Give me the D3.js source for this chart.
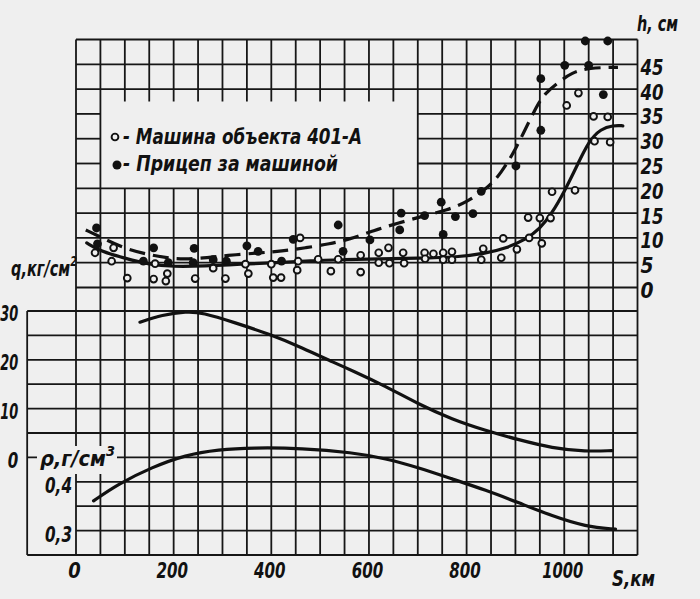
<!DOCTYPE html>
<html lang="ru">
<head>
<meta charset="UTF-8">
<title>h, q, ρ по пути S</title>
<style>
  body { margin: 0; background: #efefef; }
  svg { display: block; }
  text { font-family: "Liberation Sans Narrow", "DejaVu Sans Condensed", "DejaVu Sans", sans-serif; font-style: italic; font-weight: bold; fill: #111; }
  .grid line { stroke: #161616; stroke-width: 1.8; }
  .tick text { font-size: 22px; }
  .curve { fill: none; stroke: #111; stroke-width: 3.2; stroke-linecap: round; }
</style>
</head>
<body>
<svg width="700" height="599"></svg>
<script src="https://d3js.org/d3.v7.min.js"></script>
<script>
// --- data ---
// open circles: "Машина объекта 401-А" (S, km ; h, cm)
const carS = [39, 77, 73, 105, 162, 159, 184, 187, 244, 281, 306, 347, 353, 400, 404, 420, 455, 453, 459, 496, 522, 537,
  583, 583, 620, 620, 640, 642, 670, 672, 714, 715, 732, 752, 752, 770, 770, 834, 830,
  875, 871, 903, 928, 926, 950, 972, 954, 975, 1022, 1029, 1005, 1060, 1089, 1062, 1094];
const carH = [7.0, 8.0, 5.3, 1.9, 4.8, 1.7, 1.3, 2.8, 1.8, 3.9, 1.8, 4.7, 2.8, 4.7, 2.0, 2.0, 5.3, 3.5, 10.0, 5.7, 3.3, 5.7,
  6.5, 3.1, 7.0, 5.0, 8.0, 4.9, 7.0, 4.9, 7.0, 5.8, 6.8, 7.0, 5.6, 7.2, 5.6, 7.8, 5.6,
  9.9, 6.0, 7.7, 10.0, 14.1, 14.0, 14.0, 8.9, 19.3, 19.6, 39.2, 36.7, 34.5, 34.4, 29.5, 29.3];

// filled dots: "Прицеп за машиной"
const trailerS = [42, 44, 138, 159, 189, 242, 240, 281, 308, 350, 373, 421, 445, 537, 547,
  602, 666, 663, 714, 748, 752, 777, 813, 830, 901, 952, 952, 1001, 1050, 1080, 1043, 1089];
const trailerH = [12.0, 8.8, 5.3, 8.0, 5.0, 7.9, 5.0, 5.6, 5.3, 8.4, 7.3, 5.3, 9.7, 12.6, 7.3,
  9.6, 15.0, 11.6, 14.5, 17.2, 10.7, 14.3, 14.9, 19.4, 24.5, 31.7, 42.1, 44.8, 44.8, 38.9, 49.7, 49.7];

// averaged curves
const carFitS = [22, 50, 100, 150, 200, 260, 340, 410, 480, 550, 620, 700, 780, 840, 880, 920, 950, 975, 1000, 1025, 1050, 1075, 1100, 1120];
const carFitH = [9.0, 7.3, 5.9, 4.6, 4.2, 4.3, 4.7, 5.0, 5.4, 5.6, 5.8, 5.9, 6.1, 6.9, 7.9, 9.6, 11.8, 15.0, 19.3, 24.3, 29.5, 32.0, 32.7, 32.6];
const trailerFitS = [20, 50, 100, 150, 200, 250, 310, 380, 420, 470, 520, 560, 610, 660, 715, 760, 800, 845, 870, 900, 940, 960, 990, 1015, 1050, 1110];
const trailerFitH = [11.6, 10.2, 7.8, 6.6, 5.7, 5.8, 6.5, 7.0, 7.3, 8.0, 8.8, 9.7, 11.5, 13.0, 14.5, 15.6, 17.2, 20.2, 23.0, 27.7, 36.0, 39.2, 41.5, 43.3, 44.3, 44.4];

// q, kg/cm2 and rho, g/cm3
const qS = [131, 176, 227, 258, 326, 395, 463, 531, 566, 634, 702, 770, 839, 907, 975, 1044, 1098];
const qV = [27.7, 29.2, 29.9, 29.7, 27.6, 25.3, 22.5, 19.3, 17.8, 14.6, 10.9, 7.8, 5.5, 3.6, 1.9, 1.2, 1.4];
const rhoS = [36, 87, 156, 224, 292, 361, 463, 566, 634, 702, 770, 839, 907, 975, 1044, 1105];
const rhoV = [0.361, 0.396, 0.430, 0.455, 0.466, 0.470, 0.469, 0.460, 0.448, 0.429, 0.406, 0.383, 0.357, 0.330, 0.308, 0.303];

// tick labels
const sTicks = [0, 200, 400, 600, 800, 1000];
const hTicks = [0, 5, 10, 15, 20, 25, 30, 35, 40, 45];
const qTicks = [0, 10, 20, 30];
const rhoTicks = [0.3, 0.4];

const svg = d3.select("svg");

const x = d3.scaleLinear().domain([0, 1150]).range([76, 637.5]);
const yH = d3.scaleLinear().domain([0, 50]).range([287.5, 39.5]);
const yQ = d3.scaleLinear().domain([0, 30]).range([457.4, 311]);
const yR = d3.scaleLinear().domain([0.25, 0.45]).range([555, 457.4]);

const gridTop = yH(50), gridBottom = yR(0.25);
// legend box (blank part of the grid)
const box = {s0: 50, s1: 700, h0: 20, h1: 37.5};

// --- grid ---
const grid = svg.append("g").attr("class", "grid");
const seg = (x1, y1, x2, y2) => grid.append("line").attr("x1", x1).attr("y1", y1).attr("x2", x2).attr("y2", y2);

d3.range(0, 1151, 50).forEach(s => {
  if (s > box.s0 && s < box.s1) {
    seg(x(s), gridTop, x(s), yH(box.h1));
    seg(x(s), yH(box.h0), x(s), gridBottom);
  } else {
    seg(x(s), gridTop, x(s), gridBottom);
  }
});
d3.range(0, 51, 5).forEach(h => {
  if (h > box.h0 && h < box.h1) {
    seg(x(0), yH(h), x(box.s0), yH(h));
    seg(x(box.s1), yH(h), x(1150), yH(h));
  } else {
    seg(x(0), yH(h), x(1150), yH(h));
  }
});
d3.range(0, 31, 5).forEach(q => seg(x(-100), yQ(q), x(1150), yQ(q)));
[0.3, 0.35, 0.4].forEach(r => seg(x(0), yR(r), x(1150), yR(r)));
seg(x(-100), gridBottom, x(1150), gridBottom);
seg(x(-100), yQ(30), x(-100), gridBottom);

// --- curves ---
const toPts = (xs, ys) => xs.map((s, i) => [s, ys[i]]);
const lineH = d3.line().x(d => x(d[0])).y(d => yH(d[1])).curve(d3.curveBasis);
const lineQ = d3.line().x(d => x(d[0])).y(d => yQ(d[1])).curve(d3.curveBasis);
const lineR = d3.line().x(d => x(d[0])).y(d => yR(d[1])).curve(d3.curveBasis);

svg.append("path").attr("class", "curve").attr("d", lineH(toPts(carFitS, carFitH)));
svg.append("path").attr("class", "curve").attr("stroke-dasharray", "16,8").style("stroke-linecap", "butt")
  .attr("d", lineH(toPts(trailerFitS, trailerFitH)));
svg.append("path").attr("class", "curve").attr("d", lineQ(toPts(qS, qV)));
svg.append("path").attr("class", "curve").attr("d", lineR(toPts(rhoS, rhoV)));

// --- points ---
svg.append("g").selectAll("circle").data(toPts(carS, carH)).join("circle")
  .attr("cx", d => x(d[0])).attr("cy", d => yH(d[1])).attr("r", 3.4)
  .attr("fill", "#efefef").attr("stroke", "#111").attr("stroke-width", 1.9);
svg.append("g").selectAll("circle").data(toPts(trailerS, trailerH)).join("circle")
  .attr("cx", d => x(d[0])).attr("cy", d => yH(d[1])).attr("r", 4.4)
  .attr("fill", "#111");

// --- axes (labels only) ---
// squeeze labels to the narrow lettering of the original
const fit = (g, perChar) => g.selectAll("text").each(function () {
  const t = this.textContent;
  const w = t.replace(/,/g, "").length * perChar + (t.includes(",") ? 6 : 0) + 3;
  d3.select(this).attr("textLength", w).attr("lengthAdjust", "spacingAndGlyphs");
});
const styleAxis = g => {
  g.select(".domain").remove();
  g.selectAll(".tick line").remove();
};
svg.append("g").attr("transform", `translate(0,${gridBottom})`)
  .call(d3.axisBottom(x).tickValues(sTicks).tickSize(0).tickPadding(7).tickFormat(d3.format("d")))
  .call(styleAxis)
  .call(g => g.selectAll("text").attr("dx", "-2"))
  .call(g => fit(g, 9.5));
svg.append("g").attr("transform", `translate(${x(1150)},0)`)
  .call(d3.axisRight(yH).tickValues(hTicks).tickSize(0).tickPadding(3))
  .call(styleAxis)
  .call(g => g.selectAll("text").attr("dy", "0.45em"))
  .call(g => fit(g, 10));
svg.append("g").attr("transform", `translate(${x(-100)},0)`)
  .call(d3.axisLeft(yQ).tickValues(qTicks).tickSize(0).tickPadding(9))
  .call(styleAxis)
  .call(g => g.selectAll("text").attr("dy", "0.45em"))
  .call(g => fit(g, 7.5));
svg.append("g").attr("transform", `translate(${x(0)},0)`)
  .call(d3.axisLeft(yR).tickValues(rhoTicks).tickSize(0).tickPadding(4).tickFormat(d => d3.format(".1f")(d).replace(".", ",")))
  .call(styleAxis)
  .call(g => g.selectAll("text").attr("dy", "0.5em"))
  .call(g => fit(g, 9));

// --- axis titles ---
const label = (tx, ty, size, w, str) => svg.append("text").attr("x", tx).attr("y", ty)
  .style("font-size", size + "px").attr("textLength", w).attr("lengthAdjust", "spacingAndGlyphs").text(str);

label(637, 31, 21, 41, "h, см");
label(612, 586, 21, 43, "S,км");

// unit titles with a superscript: one text, squeezed horizontally as a whole
const unitTitle = (tx, ty, w, main, sup) => {
  const t = svg.append("text").style("font-size", "21px");
  t.append("tspan").text(main);
  t.append("tspan").attr("dy", -10).style("font-size", "14px").text(sup);
  const natural = t.node().getComputedTextLength();
  t.attr("transform", `translate(${tx},${ty}) scale(${w / natural},1)`);
};
unitTitle(11, 276, 66, "q,кг/см", "2");

svg.append("rect").attr("x", 37).attr("y", 446).attr("width", 80).attr("height", 28).attr("fill", "#efefef");
unitTitle(40, 466, 75, "ρ,г/см", "3");

// --- legend ---
svg.append("circle").attr("cx", 115).attr("cy", 137).attr("r", 3.4)
  .attr("fill", "none").attr("stroke", "#111").attr("stroke-width", 1.9);
label(123, 144, 21, 239, "- Машина объекта 401-А");
svg.append("circle").attr("cx", 117).attr("cy", 165).attr("r", 4.5).attr("fill", "#111");
label(123, 171, 21, 215, "- Прицеп за машиной");
</script>
</body>
</html>
